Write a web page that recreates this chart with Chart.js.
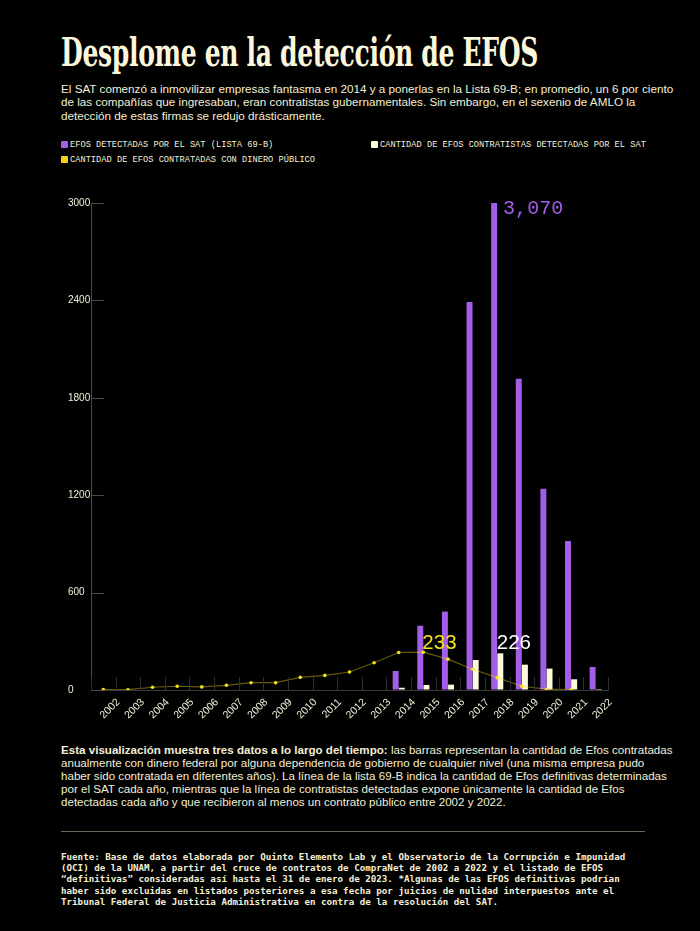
<!DOCTYPE html>
<html lang="es">
<head>
<meta charset="utf-8">
<script src="https://cdn.jsdelivr.net/npm/chart.js@4.4.1/dist/chart.umd.min.js"></script>
<style>
  html, body { margin: 0; padding: 0; background: #000; }
  body { width: 700px; height: 931px; position: relative; overflow: hidden; color: #f3efd6; }
  #title { position: absolute; left: 61px; top: 30px; margin: 0; font-family: "DejaVu Serif Condensed", "DejaVu Serif", serif; font-weight: bold; font-size: 39px; line-height: 44px; color: #fbf6dc; white-space: nowrap; transform-origin: 0 0; letter-spacing: -0.5px; }
  #sub { position: absolute; left: 61px; top: 82px; font-family: "Liberation Sans", Arial, sans-serif; font-size: 11.7px; line-height: 13.3px; white-space: nowrap; color: #f3efd6; }
  .legend { position: absolute; font-family: "Liberation Mono", monospace; font-size: 8.7px; line-height: 10px; white-space: nowrap; color: #f3efd6; }
  .sw { display: inline-block; width: 7px; height: 7px; border-radius: 1px; margin-right: 2px; vertical-align: -1px; }
  #chartbox { position: absolute; left: 0; top: 190px; width: 700px; height: 550px; }
  #para { position: absolute; left: 61px; top: 744px; font-family: "Liberation Sans", Arial, sans-serif; font-size: 11.6px; line-height: 12.9px; white-space: nowrap; color: #f3efd6; }
  #para b { font-weight: bold; }
  #rule { position: absolute; left: 61px; top: 831px; width: 584px; height: 1px; background: #6e6656; }
  #foot { position: absolute; left: 61px; top: 851px; font-family: "DejaVu Sans Mono", monospace; font-weight: bold; font-size: 9.2px; line-height: 11.2px; white-space: nowrap; color: #f3efd6; }
</style>
</head>
<body>
<h1 id="title">Desplome en la detección de EFOS</h1>
<div id="sub">El SAT comenzó a inmovilizar empresas fantasma en 2014 y a ponerlas en la Lista 69-B; en promedio, un 6 por ciento<br>de las compañías que ingresaban, eran contratistas gubernamentales. Sin embargo, en el sexenio de AMLO la<br>detección de estas firmas se redujo drásticamente.</div>
<div class="legend" style="left:61px; top:140px;"><span class="sw" style="background:#a35ee8"></span>EFOS DETECTADAS POR EL SAT (LISTA 69-B)</div>
<div class="legend" style="left:371px; top:140px;"><span class="sw" style="background:#fdf9dc"></span>CANTIDAD DE EFOS CONTRATISTAS DETECTADAS POR EL SAT</div>
<div class="legend" style="left:61px; top:155px;"><span class="sw" style="background:#f2d21a"></span>CANTIDAD DE EFOS CONTRATADAS CON DINERO PÚBLICO</div>
<div id="chartbox"><canvas id="c"></canvas></div>
<div id="para"><b>Esta visualización muestra tres datos a lo largo del tiempo:</b> las barras representan la cantidad de Efos contratadas<br>anualmente con dinero federal por alguna dependencia de gobierno de cualquier nivel (una misma empresa pudo<br>haber sido contratada en diferentes años). La línea de la lista 69-B indica la cantidad de Efos definitivas determinadas<br>por el SAT cada año, mientras que la línea de contratistas detectadas expone únicamente la cantidad de Efos<br>detectadas cada año y que recibieron al menos un contrato público entre 2002 y 2022.</div>
<div id="rule"></div>
<div id="foot">Fuente: Base de datos elaborada por Quinto Elemento Lab y el Observatorio de la Corrupción e Impunidad<br>(OCI) de la UNAM, a partir del cruce de contratos de CompraNet de 2002 a 2022 y el listado de EFOS<br>“definitivas” consideradas así hasta el 31 de enero de 2023. *Algunas de las EFOS definitivas podrían<br>haber sido excluidas en listados posteriores a esa fecha por juicios de nulidad interpuestos ante el<br>Tribunal Federal de Justicia Administrativa en contra de la resolución del SAT.</div>
<script>
// ---- data ----
const years = ['2002','2003','2004','2005','2006','2007','2008','2009','2010','2011','2012','2013','2014','2015','2016','2017','2018','2019','2020','2021','2022'];
const efosDetectadasSAT = [null,null,null,null,null,null,null,null,null,null,null,null,117,396,483,2390,3070,1917,1239,918,142];
const contratistasDetectadas = [null,null,null,null,null,null,null,null,null,null,null,null,14,31,33,185,226,156,132,66,6];
const contratadasDineroPublico = [3,2,17,23,19,29,45,45,78,90,111,168,231,233,190,128,76,23,5,2,null];
const yTickValues = [0,600,1200,1800,2400,3000];

// fit title width
(function(){
  const t = document.getElementById('title');
  const w = t.scrollWidth;
  const target = 477;
  t.style.transform = 'scaleX(' + (target / w) + ')';
})();

const PURPLE = '#a35ee8';
const CREAM = '#fdf9dc';
const YELLOW = '#f6e21a';
const TEXT = '#f3efd6';

const decorPlugin = {
  id: 'decor',
  afterDatasetsDraw(chart) {
    const ctx = chart.ctx;
    const xs = chart.scales.x, ys = chart.scales.y;
    const area = chart.chartArea;
    ctx.save();
    // short boundary marks on x axis
    const step = xs.getPixelForValue(1) - xs.getPixelForValue(0);
    ctx.strokeStyle = '#2e2e2e';
    ctx.lineWidth = 1;
    for (let i = 0; i <= years.length; i++) {
      const x = Math.round(xs.getPixelForValue(i) - step / 2) + 0.5;
      ctx.beginPath();
      ctx.moveTo(x, area.bottom);
      ctx.lineTo(x, area.bottom - 13);
      ctx.stroke();
    }
    // inner y ticks
    ctx.strokeStyle = '#4a4a4a';
    yTickValues.forEach(v => {
      const y = Math.round(ys.getPixelForValue(v)) + 0.5;
      ctx.beginPath();
      ctx.moveTo(area.left, y);
      ctx.lineTo(area.left + 13, y);
      ctx.stroke();
    });
    // annotations
    const maxIdx = arr => arr.reduce((bi, v, i) => (v !== null && (bi < 0 || v > arr[bi])) ? i : bi, -1);
    const pi = maxIdx(efosDetectadasSAT);
    const pel = chart.getDatasetMeta(1).data[pi];
    ctx.fillStyle = PURPLE;
    ctx.font = '20px "Liberation Mono", monospace';
    ctx.textAlign = 'left';
    ctx.textBaseline = 'middle';
    ctx.fillText(efosDetectadasSAT[pi].toLocaleString('en-US'), pel.x + pel.width / 2 + 6, Math.max(pel.y, area.top) + 6);
    const li = maxIdx(contratadasDineroPublico);
    const lel = chart.getDatasetMeta(0).data[li];
    ctx.fillStyle = YELLOW;
    ctx.font = '20.5px "Liberation Sans", Arial, sans-serif';
    ctx.textBaseline = 'alphabetic';
    ctx.fillText(String(contratadasDineroPublico[li]), lel.x - 1, lel.y - 3.5);
    const wi = maxIdx(contratistasDetectadas);
    const wel = chart.getDatasetMeta(2).data[wi];
    ctx.fillStyle = '#ffffff';
    ctx.fillText(String(contratistasDetectadas[wi]), wel.x - wel.width / 2 - 0.5, wel.y - 4.5);
    ctx.restore();
  }
};

new Chart(document.getElementById('c'), {
  data: {
    labels: years,
    datasets: [
      {
        type: 'line',
        label: 'CANTIDAD DE EFOS CONTRATADAS CON DINERO PÚBLICO',
        data: contratadasDineroPublico,
        borderColor: 'rgba(240,215,20,0.42)',
        borderWidth: 1.2,
        pointBackgroundColor: YELLOW,
        pointBorderWidth: 0,
        pointRadius: 1.8,
        tension: 0,
        spanGaps: false
      },
      {
        type: 'bar',
        label: 'EFOS DETECTADAS POR EL SAT (LISTA 69-B)',
        data: efosDetectadasSAT,
        backgroundColor: PURPLE,
        categoryPercentage: 0.5,
        barPercentage: 0.97,
        clip: 0
      },
      {
        type: 'bar',
        label: 'CANTIDAD DE EFOS CONTRATISTAS DETECTADAS POR EL SAT',
        data: contratistasDetectadas,
        backgroundColor: CREAM,
        categoryPercentage: 0.5,
        barPercentage: 0.97,
        clip: 0
      }
    ]
  },
  options: {
    responsive: true,
    maintainAspectRatio: false,
    animation: false,
    layout: { padding: { left: 68, right: 92, top: 13, bottom: 10 } },
    plugins: { legend: { display: false }, tooltip: { enabled: false } },
    scales: {
      x: {
        type: 'category',
        offset: true,
        grid: { display: true, drawOnChartArea: false, drawTicks: false, offset: true },
        border: { display: true, color: '#3a3a3a', width: 1 },
        ticks: {
          color: TEXT,
          font: { family: '"Liberation Sans", Arial, sans-serif', size: 10.5 },
          minRotation: 45,
          maxRotation: 45,
          autoSkip: false,
          labelOffset: 15,
          padding: 6
        },
        afterFit(s) { s.height = 40; }
      },
      y: {
        min: 0,
        max: 3000,
        afterBuildTicks(s) { s.ticks = yTickValues.map(v => ({ value: v })); },
        grid: { display: true, drawOnChartArea: false, drawTicks: false },
        border: { display: true, color: '#4a4a4a', width: 1 },
        ticks: {
          color: TEXT,
          crossAlign: 'far',
          padding: 2,
          font: { family: '"Liberation Sans", Arial, sans-serif', size: 10 },
          callback: v => String(v)
        },
        afterFit(s) { s.width = 23; }
      }
    }
  },
  plugins: [decorPlugin]
});
</script>
</body>
</html>
